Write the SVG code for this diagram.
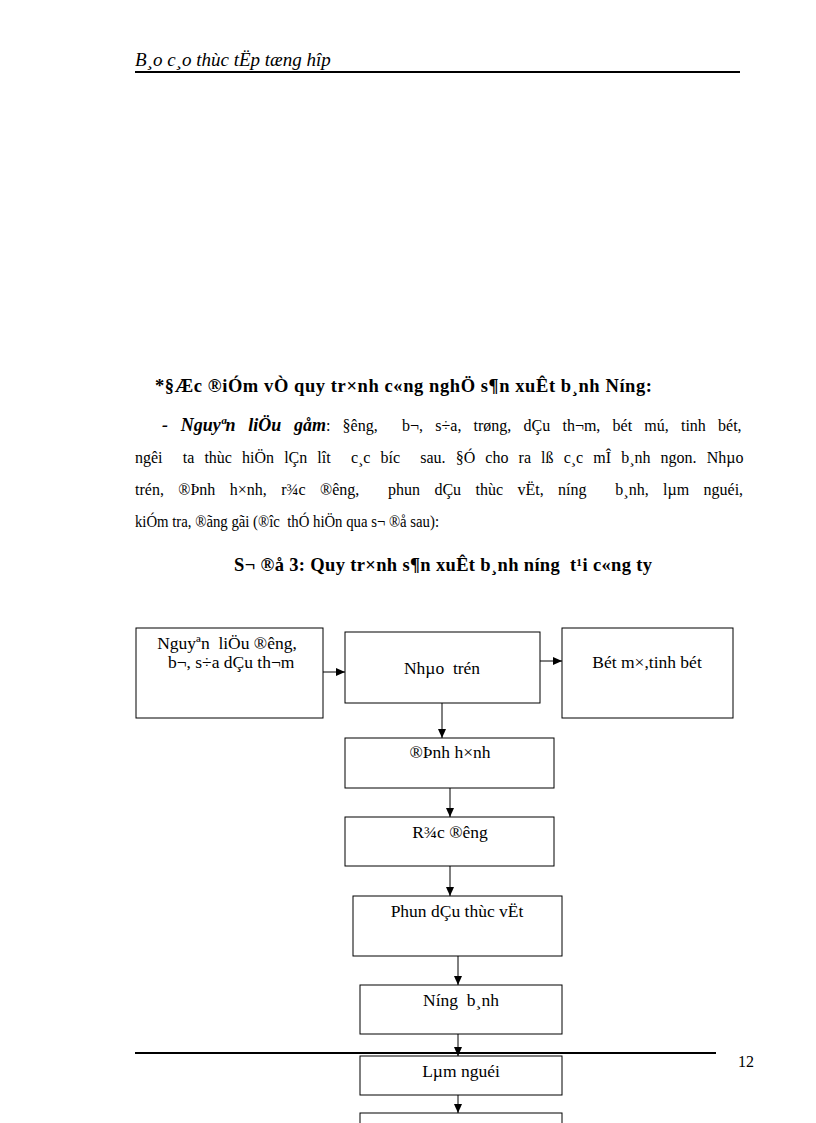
<svg xmlns="http://www.w3.org/2000/svg" width="816" height="1123" viewBox="0 0 816 1123">
<style>
.t{font-family:"Liberation Serif","Times New Roman",serif;font-size:16px;fill:#000}
.b{font-weight:bold;font-size:18.5px}
.bi{font-weight:bold;font-style:italic;font-size:18px}
.bx{font-family:"Liberation Serif","Times New Roman",serif;font-size:17.5px;fill:#000;text-anchor:middle}
.hd{font-family:"Liberation Serif","Times New Roman",serif;font-size:19px;font-style:italic;fill:#000}
.box{fill:#fff;stroke:#000;stroke-width:1}
.conn line{stroke:#000;stroke-width:1;marker-end:url(#ah)}
</style>
<defs>
<marker id="ah" markerUnits="userSpaceOnUse" markerWidth="9" markerHeight="8" refX="9" refY="4" orient="auto">
<path d="M0,0 L9,4 L0,8 Z" fill="#000"/>
</marker>
</defs>
<rect width="816" height="1123" fill="#fff"/>
<g id="header">
<text class="hd" x="135" y="66">B¸o c¸o thùc tËp tæng hîp</text>
<line x1="135" y1="72" x2="740" y2="72" stroke="#000" stroke-width="2"/>
</g>
<g id="body">
<text class="t b" x="155" y="392" textLength="497" lengthAdjust="spacing">*§Æc ®iÓm vÒ quy tr×nh c«ng nghÖ s¶n xuÊt b¸nh Níng:</text>
<text class="t" x="162" y="431" xml:space="preserve" style="word-spacing:8.2px"><tspan class="bi">- Nguyªn liÖu gåm</tspan>: §êng,  b¬, s÷a, trøng, dÇu th¬m, bét mú, tinh bét,</text>
<text class="t" x="135" y="463" xml:space="preserve" style="word-spacing:6.1px">ngêi  ta thùc hiÖn lÇn lît  c¸c bíc  sau. §Ó cho ra lß c¸c mÎ b¸nh ngon. Nhµo</text>
<text class="t" x="135" y="495" xml:space="preserve" style="word-spacing:10.4px">trén, ®Þnh h×nh, r¾c ®êng,  phun dÇu thùc vËt, níng  b¸nh, lµm nguéi,</text>
<text class="t" x="135" y="527" xml:space="preserve" textLength="304" lengthAdjust="spacingAndGlyphs">kiÓm tra, ®ãng gãi (®îc  thÓ hiÖn qua s¬ ®å sau):</text>
<text class="t b" x="234" y="571" xml:space="preserve" textLength="418" lengthAdjust="spacing">S¬ ®å 3: Quy tr×nh s¶n xuÊt b¸nh níng  t¹i c«ng ty</text>
</g>
<g id="n1"><rect class="box" x="136" y="628" width="187" height="90"/>
<text class="bx" x="227" y="649" xml:space="preserve">Nguyªn  liÖu ®êng,</text>
<text class="bx" x="229" y="668" xml:space="preserve"> b¬, s÷a dÇu th¬m</text></g>
<g id="n2"><rect class="box" x="345" y="632" width="195" height="71"/>
<text class="bx" x="442" y="674" xml:space="preserve">Nhµo  trén</text></g>
<g id="n3"><rect class="box" x="562" y="628" width="171" height="90"/>
<text class="bx" x="647" y="668">Bét m×,tinh bét</text></g>
<g id="n4"><rect class="box" x="345" y="738" width="209" height="50"/>
<text class="bx" x="450" y="758">®Þnh h×nh</text></g>
<g id="n5"><rect class="box" x="345" y="817" width="209" height="49"/>
<text class="bx" x="450" y="838">R¾c ®êng</text></g>
<g id="n6"><rect class="box" x="353" y="896" width="209" height="60"/>
<text class="bx" x="457" y="917">Phun dÇu thùc vËt</text></g>
<g id="n7"><rect class="box" x="360" y="985" width="202" height="49"/>
<text class="bx" x="461" y="1006" xml:space="preserve">Níng  b¸nh</text></g>
<g id="n8"><rect class="box" x="360" y="1056" width="202" height="39"/>
<text class="bx" x="461" y="1077">Lµm nguéi</text></g>
<g id="n9"><rect class="box" x="360" y="1113" width="202" height="30"/></g>
<g id="connectors" class="conn">
<line x1="323" y1="672" x2="345" y2="672"/>
<line x1="540" y1="661" x2="562" y2="661"/>
<line x1="442" y1="703" x2="442" y2="738"/>
<line x1="450" y1="788" x2="450" y2="817"/>
<line x1="450" y1="866" x2="450" y2="896"/>
<line x1="458" y1="956" x2="458" y2="985"/>
<line x1="458" y1="1034" x2="458" y2="1056"/>
<line x1="458" y1="1095" x2="458" y2="1113"/>
</g>
<g id="footer">
<line x1="135" y1="1053" x2="716" y2="1053" stroke="#000" stroke-width="2"/>
<text class="t" x="738" y="1067">12</text>
</g>
</svg>
